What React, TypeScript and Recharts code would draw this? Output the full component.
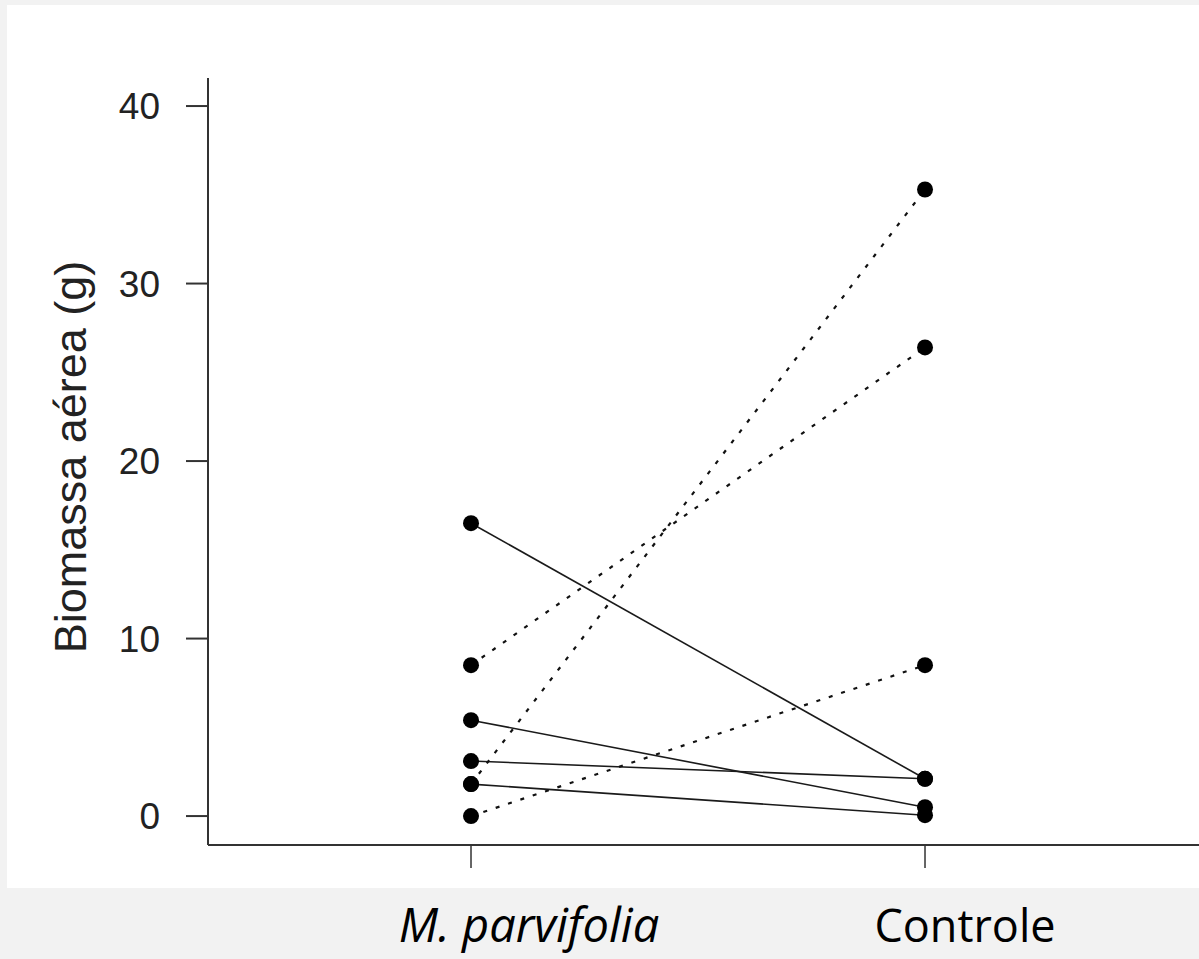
import React from "react";
import { LineChart, Line, XAxis, YAxis, Label } from "recharts";

// treatment categories (x positions 1 and 2)
const categories = ["M. parvifolia", "Controle"];

// paired biomass values (g), one entry per plant
const mParvifolia = [16.5, 5.4, 3.1, 1.8, 0, 8.5, 1.8];
const controle = [2.1, 0.5, 2.1, 0.05, 8.5, 26.4, 35.3];

const yTicks = [0, 10, 20, 30, 40];

const W = 1199;
const H = 959;

// text offsets / sizes of the category labels relative to their tick
const labelShift = [58, 40];
const labelSize = [47, 45];

const data = categories.map((_, c) => {
  const row: any = { x: c + 1 };
  mParvifolia.forEach((v, i) => {
    row["s" + i] = c === 0 ? v : controle[i];
  });
  return row;
});

const CategoryTick = (props: any) => {
  const { x, y, payload } = props;
  const i = Math.round(payload.value) - 1;
  return (
    <text
      x={x + (labelShift[i] || 0)}
      y={y + 72}
      textAnchor="middle"
      fill="#000"
      fontSize={labelSize[i]}
      fontFamily="'Open Sans', sans-serif"
      fontStyle={i === 0 ? "italic" : "normal"}
    >
      {categories[i]}
    </text>
  );
};

const App = () => {
  return (
    <div
      style={{
        position: "absolute",
        left: 0,
        top: 0,
        width: W,
        height: H,
        background: "#f2f2f2",
      }}
    >
      <div
        style={{
          position: "absolute",
          left: 7,
          top: 5,
          width: W - 7,
          height: 883,
          background: "#fff",
        }}
      />
      <div style={{ position: "absolute", left: 0, top: 0 }}>
        <LineChart
          width={W}
          height={H}
          data={data}
          margin={{ top: 78, right: 0, bottom: 0, left: 0 }}
        >
          <XAxis
            type="number"
            dataKey="x"
            domain={[0.4207, 2.6035]}
            ticks={[1, 2]}
            allowDataOverflow
            height={114}
            axisLine={{ stroke: "#333", strokeWidth: 2 }}
            tickLine={{ stroke: "#333", strokeWidth: 1.5 }}
            tickSize={23}
            tick={<CategoryTick />}
          />
          <YAxis
            type="number"
            domain={[-1.63, 41.58]}
            ticks={yTicks}
            allowDataOverflow
            width={208}
            axisLine={{ stroke: "#333", strokeWidth: 2 }}
            tickLine={{ stroke: "#333", strokeWidth: 2 }}
            tickSize={22}
            tickMargin={26}
            tick={{
              fill: "#222",
              fontSize: 37,
              fontFamily: "'Liberation Sans', Arial, sans-serif",
            }}
          >
            <Label
              content={() => (
                <text
                  x={86}
                  y={457}
                  transform="rotate(-90, 86, 457)"
                  textAnchor="middle"
                  fill="#222"
                  fontSize={45}
                  fontFamily="'Liberation Sans', Arial, sans-serif"
                >
                  Biomassa aérea (g)
                </text>
              )}
            />
          </YAxis>
          {mParvifolia.map((v, i) => {
            const rising = controle[i] > v;
            return (
              <Line
                key={i}
                type="linear"
                dataKey={"s" + i}
                stroke={rising ? "#111" : "#1a1a1a"}
                strokeWidth={rising ? 2.2 : 1.6}
                strokeDasharray={rising ? "4 9" : undefined}
                dot={{ r: 8, fill: "#000", stroke: "none" }}
                activeDot={false}
                isAnimationActive={false}
              />
            );
          })}
        </LineChart>
      </div>
    </div>
  );
};

export default App;
